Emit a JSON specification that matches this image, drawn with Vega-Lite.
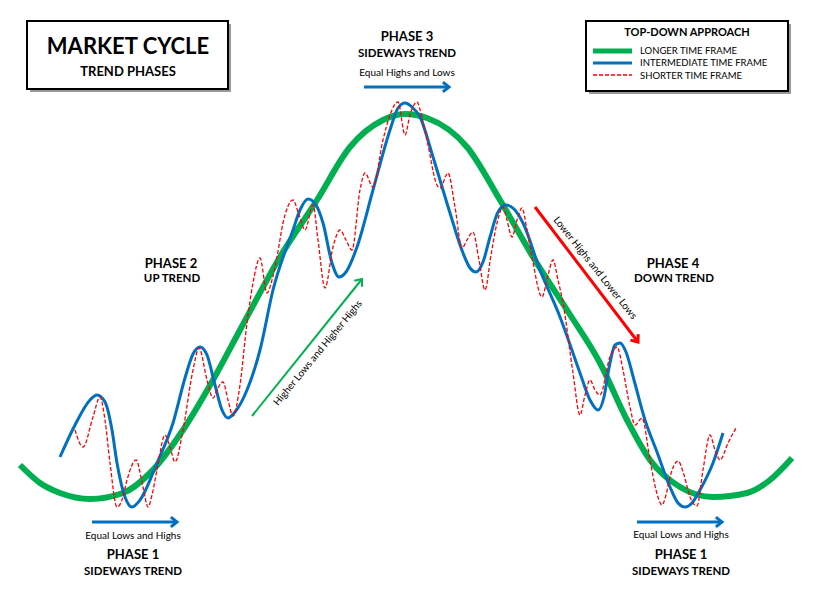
{
  "$schema": "https://vega.github.io/schema/vega-lite/v6.json",
  "width": 832,
  "height": 611,
  "padding": 0,
  "autosize": {"type": "fit", "contains": "padding"},
  "background": "white",
  "config": {"view": {"stroke": null}, "text": {"font": "Lato"}},
  "datasets": {
    "green": [
      {"x":20,"y":465},{"x":40,"y":483},{"x":60,"y":493},{"x":90,"y":499},{"x":123,"y":493},{"x":150,"y":473},{"x":183,"y":430},{"x":213,"y":380},{"x":240,"y":330},{"x":280,"y":257},{"x":317,"y":200},{"x":350,"y":147},{"x":383,"y":120},{"x":405,"y":114},{"x":427,"y":118},{"x":467,"y":147},{"x":500,"y":200},{"x":533,"y":257},{"x":567,"y":310},{"x":600,"y":363},{"x":627,"y":420},{"x":650,"y":460},{"x":680,"y":487},{"x":713,"y":497},{"x":747,"y":493},{"x":770,"y":480},{"x":792,"y":458}
    ],
    "blue": [
      {"x":60,"y":457},{"x":75,"y":425},{"x":90,"y":400},{"x":97,"y":395},{"x":105,"y":402},{"x":112,"y":430},{"x":117,"y":463},{"x":125,"y":497},{"x":132,"y":507},{"x":140,"y":500},{"x":157,"y":463},{"x":173,"y":423},{"x":185,"y":378},{"x":193,"y":354},{"x":200,"y":347},{"x":207,"y":355},{"x":215,"y":385},{"x":222,"y":410},{"x":228,"y":418},{"x":235,"y":412},{"x":247,"y":390},{"x":260,"y":350},{"x":273,"y":290},{"x":293,"y":230},{"x":300,"y":210},{"x":308,"y":199},{"x":316,"y":205},{"x":323,"y":223},{"x":332,"y":263},{"x":339,"y":277},{"x":346,"y":272},{"x":357,"y":247},{"x":373,"y":190},{"x":390,"y":130},{"x":398,"y":108},{"x":405,"y":103},{"x":412,"y":107},{"x":420,"y":117},{"x":433,"y":157},{"x":450,"y":213},{"x":463,"y":253},{"x":470,"y":268},{"x":476,"y":272},{"x":483,"y":262},{"x":490,"y":237},{"x":498,"y":212},{"x":506,"y":205},{"x":514,"y":209},{"x":523,"y":223},{"x":540,"y":270},{"x":560,"y":317},{"x":580,"y":373},{"x":590,"y":400},{"x":598,"y":410},{"x":604,"y":397},{"x":609,"y":368},{"x":615,"y":345},{"x":620,"y":343},{"x":626,"y":352},{"x":634,"y":380},{"x":645,"y":420},{"x":657,"y":452},{"x":670,"y":487},{"x":678,"y":503},{"x":685,"y":507},{"x":692,"y":503},{"x":700,"y":490},{"x":713,"y":463},{"x":723,"y":433}
    ],
    "red": [
      {"x":75,"y":430},{"x":83,"y":447},{"x":93,"y":417},{"x":100,"y":397},{"x":105,"y":420},{"x":110,"y":463},{"x":117,"y":507},{"x":122,"y":500},{"x":127,"y":480},{"x":136,"y":460},{"x":143,"y":487},{"x":148,"y":507},{"x":152,"y":495},{"x":157,"y":470},{"x":165,"y":435},{"x":170,"y":447},{"x":175,"y":462},{"x":183,"y":430},{"x":193,"y":370},{"x":199,"y":348},{"x":207,"y":380},{"x":213,"y":398},{"x":218,"y":388},{"x":223,"y":382},{"x":228,"y":400},{"x":233,"y":416},{"x":240,"y":385},{"x":247,"y":323},{"x":253,"y":283},{"x":260,"y":258},{"x":267,"y":293},{"x":272,"y":280},{"x":277,"y":257},{"x":283,"y":223},{"x":293,"y":200},{"x":299,"y":215},{"x":305,"y":230},{"x":313,"y":205},{"x":318,"y":240},{"x":325,"y":288},{"x":333,"y":247},{"x":340,"y":230},{"x":346,"y":240},{"x":352,"y":250},{"x":360,"y":190},{"x":365,"y":173},{"x":373,"y":187},{"x":383,"y":140},{"x":390,"y":115},{"x":398,"y":102},{"x":405,"y":135},{"x":410,"y":115},{"x":417,"y":102},{"x":422,"y":118},{"x":427,"y":140},{"x":437,"y":185},{"x":440,"y":188},{"x":448,"y":173},{"x":455,"y":207},{"x":462,"y":248},{"x":467,"y":240},{"x":473,"y":232},{"x":479,"y":260},{"x":485,"y":290},{"x":491,"y":255},{"x":497,"y":223},{"x":503,"y":207},{"x":507,"y":220},{"x":512,"y":237},{"x":517,"y":220},{"x":522,"y":208},{"x":527,"y":230},{"x":532,"y":257},{"x":542,"y":297},{"x":548,"y":275},{"x":553,"y":260},{"x":558,"y":280},{"x":563,"y":303},{"x":573,"y":373},{"x":580,"y":415},{"x":585,"y":395},{"x":590,"y":380},{"x":595,"y":390},{"x":600,"y":395},{"x":610,"y":357},{"x":617,"y":347},{"x":623,"y":370},{"x":630,"y":407},{"x":635,"y":425},{"x":642,"y":418},{"x":650,"y":460},{"x":656,"y":490},{"x":662,"y":505},{"x":666,"y":495},{"x":670,"y":477},{"x":678,"y":461},{"x":684,"y":475},{"x":690,"y":497},{"x":697,"y":506},{"x":703,"y":470},{"x":710,"y":435},{"x":715,"y":450},{"x":720,"y":460},{"x":728,"y":443},{"x":736,"y":428}
    ],
    "boxes": [
      {"x":27,"y":21,"x2":228,"y2":89},
      {"x":586,"y":21,"x2":788,"y2":91}
    ],
    "shadows": [
      {"x":30,"y":24,"x2":231,"y2":92},
      {"x":589,"y":24,"x2":791,"y2":94}
    ],
    "arrows": [
      {"x":364,"y":87,"x2":449,"y2":87,"c":"#0070c0","w":3},
      {"x":92,"y":522,"x2":177,"y2":522,"c":"#0070c0","w":3},
      {"x":637,"y":522,"x2":722,"y2":522,"c":"#0070c0","w":3},
      {"x":252,"y":416,"x2":362,"y2":279,"c":"#00b050","w":2},
      {"x":535,"y":207,"x2":638,"y2":342,"c":"#ff0000","w":3}
    ],
    "heads": [
      {"x":449,"y":87,"ang":0,"c":"#0070c0","w":3},
      {"x":177,"y":522,"ang":0,"c":"#0070c0","w":3},
      {"x":722,"y":522,"ang":0,"c":"#0070c0","w":3},
      {"x":362,"y":279,"ang":-51.2,"c":"#00b050","w":2},
      {"x":638,"y":342,"ang":52.7,"c":"#ff0000","w":3}
    ],
    "boldText": [
      {"x":128,"y":47,"t":"MARKET CYCLE","s":22},
      {"x":128,"y":72,"t":"TREND PHASES","s":13},
      {"x":687,"y":33,"t":"TOP-DOWN APPROACH","s":11},
      {"x":407,"y":37,"t":"PHASE 3","s":13},
      {"x":407,"y":54,"t":"SIDEWAYS TREND","s":11.5},
      {"x":171,"y":264,"t":"PHASE 2","s":13},
      {"x":172,"y":279,"t":"UP TREND","s":11.5},
      {"x":673,"y":264,"t":"PHASE 4","s":13},
      {"x":674,"y":279,"t":"DOWN TREND","s":11.5},
      {"x":133,"y":555,"t":"PHASE 1","s":13},
      {"x":133,"y":572,"t":"SIDEWAYS TREND","s":11.5},
      {"x":681,"y":555,"t":"PHASE 1","s":13},
      {"x":681,"y":572,"t":"SIDEWAYS TREND","s":11.5}
    ],
    "normalText": [
      {"x":407,"y":73,"t":"Equal Highs and Lows","s":10,"a":0},
      {"x":133,"y":536,"t":"Equal Lows and Highs","s":10,"a":0},
      {"x":681,"y":535,"t":"Equal Lows and Highs","s":10,"a":0},
      {"x":318,"y":353,"t":"Higher Lows and Higher Highs","s":10,"a":-50.5},
      {"x":595,"y":268,"t":"Lower Highs and Lower Lows","s":10,"a":51.5}
    ],
    "legendText": [
      {"x":640,"y":51,"t":"LONGER TIME FRAME"},
      {"x":640,"y":63,"t":"INTERMEDIATE TIME FRAME"},
      {"x":640,"y":76,"t":"SHORTER TIME FRAME"}
    ],
    "legGreen": [{"x":593,"y":51,"x2":632}],
    "legBlue": [{"x":593,"y":63,"x2":632}],
    "legRed": [{"x":593,"y":75,"x2":632}]
  },
  "encoding": {
    "x": {"field": "x", "type": "quantitative", "scale": {"domain": [0, 832], "nice": false, "zero": false}, "axis": null},
    "y": {"field": "y", "type": "quantitative", "scale": {"domain": [0, 611], "nice": false, "zero": false, "reverse": true}, "axis": null}
  },
  "layer": [
    {"data": {"name": "shadows"}, "mark": {"type": "rect", "fill": "#9a9a9a"}, "encoding": {"x2": {"field": "x2"}, "y2": {"field": "y2"}}},
    {"data": {"name": "boxes"}, "mark": {"type": "rect", "fill": "white", "stroke": "black", "strokeWidth": 2}, "encoding": {"x2": {"field": "x2"}, "y2": {"field": "y2"}}},
    {"data": {"name": "green"}, "mark": {"type": "line", "color": "#00b050", "strokeWidth": 6, "interpolate": "monotone"}, "encoding": {}},
    {"data": {"name": "blue"}, "mark": {"type": "line", "color": "#0070c0", "strokeWidth": 3, "interpolate": "monotone"}, "encoding": {}},
    {"data": {"name": "red"}, "mark": {"type": "line", "color": "#ff0000", "strokeWidth": 1.3, "strokeDash": [4, 2], "interpolate": "monotone"}, "encoding": {}},
    {"data": {"name": "arrows"}, "mark": {"type": "rule"}, "encoding": {"x2": {"field": "x2"}, "y2": {"field": "y2"}, "color": {"field": "c", "type": "nominal", "scale": null}, "strokeWidth": {"field": "w", "type": "quantitative", "scale": null}}},
    {"data": {"name": "heads"}, "mark": {"type": "point", "shape": "M -1 -0.8 L 0 0 L -1 0.8", "filled": false, "size": 150, "opacity": 1, "strokeJoin": "miter"}, "encoding": {"angle": {"field": "ang", "type": "quantitative", "scale": null}, "color": {"field": "c", "type": "nominal", "scale": null}, "strokeWidth": {"field": "w", "type": "quantitative", "scale": null}}},
    {"data": {"name": "legGreen"}, "mark": {"type": "rule", "color": "#00b050", "strokeWidth": 5}, "encoding": {"x2": {"field": "x2"}}},
    {"data": {"name": "legBlue"}, "mark": {"type": "rule", "color": "#0070c0", "strokeWidth": 3}, "encoding": {"x2": {"field": "x2"}}},
    {"data": {"name": "legRed"}, "mark": {"type": "rule", "color": "#ff0000", "strokeWidth": 1.3, "strokeDash": [4, 2]}, "encoding": {"x2": {"field": "x2"}}},
    {"data": {"name": "boldText"}, "mark": {"type": "text", "fontWeight": "bold", "align": "center", "baseline": "middle", "color": "black"}, "encoding": {"text": {"field": "t"}, "size": {"field": "s", "type": "quantitative", "scale": null}}},
    {"data": {"name": "normalText"}, "mark": {"type": "text", "align": "center", "baseline": "middle", "color": "black"}, "encoding": {"text": {"field": "t"}, "size": {"field": "s", "type": "quantitative", "scale": null}, "angle": {"field": "a", "type": "quantitative", "scale": null}}},
    {"data": {"name": "legendText"}, "mark": {"type": "text", "align": "left", "baseline": "middle", "color": "black", "fontSize": 9.5}, "encoding": {"text": {"field": "t"}}}
  ]
}
